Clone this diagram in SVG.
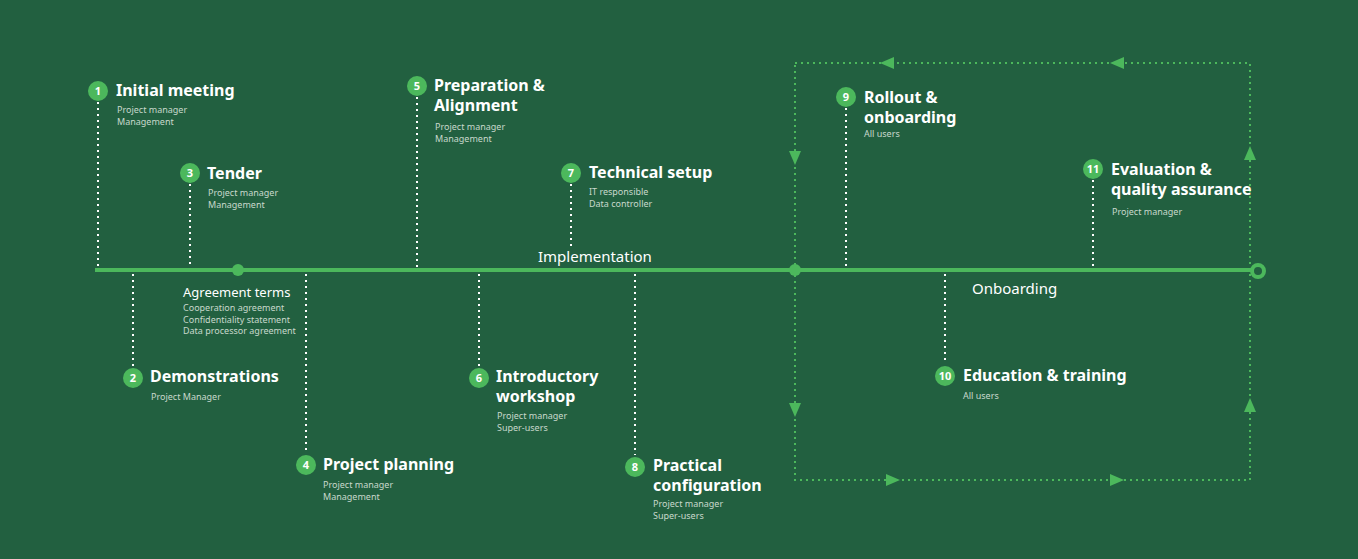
<svg xmlns="http://www.w3.org/2000/svg" width="1358" height="559" viewBox="0 0 1358 559">
<defs>
<style>
.t{font-family:"Noto Sans","Liberation Sans",sans-serif;font-weight:700;font-size:16px;fill:#fff}
.s{font-family:"Noto Sans","Liberation Sans",sans-serif;font-size:9px;fill:#c8d8cc}
.n{font-family:"Noto Sans","Liberation Sans",sans-serif;font-weight:700;font-size:11px;fill:#fff;text-anchor:middle}
.c{fill:#4cb85c}
.w{stroke:#fff;stroke-width:2;stroke-dasharray:2 4;fill:none}
.g{stroke:#4cb85c;stroke-width:2;stroke-dasharray:2 4;fill:none}
.l{font-family:"Noto Sans","Liberation Sans",sans-serif;font-size:15px;fill:#fff}
</style>
</defs>
<rect width="1358" height="559" fill="#226040"/>
<g id="connectors">
<line x1="95" y1="270" x2="1258" y2="270" stroke="#4cb85c" stroke-width="4"/>
<circle cx="238" cy="270" r="6" class="c"/>
<circle cx="795" cy="270" r="6" class="c"/>
<circle cx="1258" cy="271" r="6" fill="#226040" stroke="#4cb85c" stroke-width="4"/>
<path class="g" d="M795 63H1250V480H795Z"/>
<g fill="#4cb85c">
<path d="M1110 63l14 -6v12z"/><path d="M880 63l14 -6v12z"/>
<path d="M795 165l-6 -14h12z"/><path d="M795 417l-6 -14h12z"/>
<path d="M900 480l-14 -6v12z"/><path d="M1124 480l-14 -6v12z"/>
<path d="M1250 146l-6 14h12z"/><path d="M1250 398l-6 14h12z"/>
</g>
<path class="w" d="M98 102V268M190 184V268M417 97V268M571 184V246M846 108V268M1093 180V268M133 274V366M306 274V454M479 274V366M635 274V455M945 274V364"/>
<text x="538" y="262" class="l">Implementation</text>
<text x="972" y="294" class="l">Onboarding</text>
</g>
<g id="agreement">
<text x="183" y="297" font-family="Noto Sans,Liberation Sans,sans-serif" font-size="13" fill="#fff">Agreement terms</text>
<text x="183" y="311" class="s">Cooperation agreement</text>
<text x="183" y="323" class="s">Confidentiality statement</text>
<text x="183" y="334" class="s">Data processor agreement</text>
</g>
<g id="n1"><circle cx="98" cy="91" r="10" class="c"/><text x="98" y="95" class="n">1</text><text x="116" y="96" class="t">Initial meeting</text><text x="117" y="113" class="s">Project manager</text><text x="117" y="125" class="s">Management</text></g>
<g id="n3"><circle cx="190" cy="173" r="10" class="c"/><text x="190" y="177" class="n">3</text><text x="207" y="179" class="t">Tender</text><text x="208" y="196" class="s">Project manager</text><text x="208" y="208" class="s">Management</text></g>
<g id="n5"><circle cx="417" cy="86" r="10" class="c"/><text x="417" y="90" class="n">5</text><text x="434" y="91" class="t">Preparation &amp;</text><text x="434" y="111" class="t">Alignment</text><text x="435" y="130" class="s">Project manager</text><text x="435" y="142" class="s">Management</text></g>
<g id="n7"><circle cx="571" cy="173" r="10" class="c"/><text x="571" y="177" class="n">7</text><text x="589" y="178" class="t">Technical setup</text><text x="589" y="195" class="s">IT responsible</text><text x="589" y="207" class="s">Data controller</text></g>
<g id="n9"><circle cx="846" cy="97" r="10" class="c"/><text x="846" y="101" class="n">9</text><text x="864" y="103" class="t">Rollout &amp;</text><text x="864" y="123" class="t">onboarding</text><text x="864" y="137" class="s">All users</text></g>
<g id="n11"><circle cx="1093" cy="169" r="10" class="c"/><text x="1093" y="173" class="n">11</text><text x="1111" y="175" class="t">Evaluation &amp;</text><text x="1111" y="195" class="t">quality assurance</text><text x="1112" y="215" class="s">Project manager</text></g>
<g id="n2"><circle cx="133" cy="378" r="10" class="c"/><text x="133" y="382" class="n">2</text><text x="150" y="382" class="t">Demonstrations</text><text x="151" y="400" class="s">Project Manager</text></g>
<g id="n4"><circle cx="306" cy="465" r="10" class="c"/><text x="306" y="469" class="n">4</text><text x="323" y="470" class="t">Project planning</text><text x="323" y="488" class="s">Project manager</text><text x="323" y="500" class="s">Management</text></g>
<g id="n6"><circle cx="479" cy="378" r="10" class="c"/><text x="479" y="382" class="n">6</text><text x="496" y="382" class="t">Introductory</text><text x="496" y="402" class="t">workshop</text><text x="497" y="419" class="s">Project manager</text><text x="497" y="431" class="s">Super-users</text></g>
<g id="n8"><circle cx="635" cy="467" r="10" class="c"/><text x="635" y="471" class="n">8</text><text x="653" y="471" class="t">Practical</text><text x="653" y="491" class="t">configuration</text><text x="653" y="507" class="s">Project manager</text><text x="653" y="519" class="s">Super-users</text></g>
<g id="n10"><circle cx="945" cy="376" r="10" class="c"/><text x="945" y="380" class="n">10</text><text x="963" y="381" class="t">Education &amp; training</text><text x="963" y="399" class="s">All users</text></g>
</svg>
